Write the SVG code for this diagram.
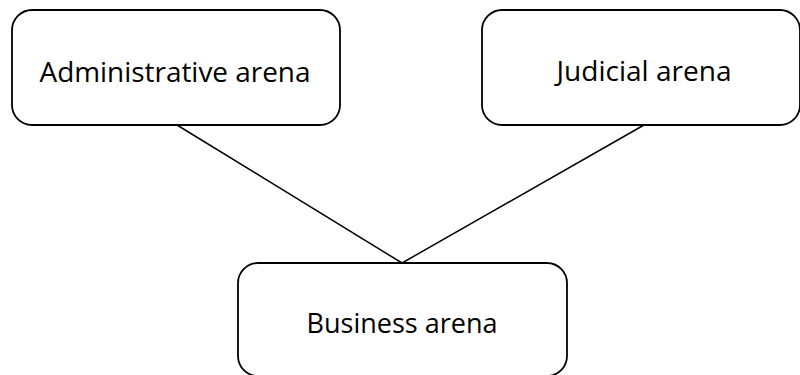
<svg xmlns="http://www.w3.org/2000/svg" width="800" height="375" viewBox="0 0 800 375">
<style>
.box{fill:#ffffff;stroke:#000000;stroke-width:1.8}
.lbl{font-family:"Open Sans","Liberation Sans",sans-serif;font-size:28px;fill:#000000;text-anchor:middle}
.conn{stroke:#000000;stroke-width:1.5;fill:none}
</style>
<rect width="800" height="375" fill="#ffffff"/>
<g id="connectors">
<line class="conn" x1="177" y1="125" x2="402" y2="263"/>
<line class="conn" x1="644" y1="125" x2="402" y2="263"/>
</g>
<g id="administrative">
<rect class="box" x="12" y="10" width="328" height="115" rx="20" ry="20"/>
<text class="lbl" x="175" y="82" textLength="271" lengthAdjust="spacingAndGlyphs">Administrative arena</text>
</g>
<g id="judicial">
<rect class="box" x="482" y="10" width="318" height="115" rx="20" ry="20"/>
<text class="lbl" x="644" y="81" textLength="175" lengthAdjust="spacingAndGlyphs">Judicial arena</text>
</g>
<g id="business">
<rect class="box" x="238" y="263" width="329" height="113" rx="20" ry="20"/>
<text class="lbl" x="402" y="333" textLength="191" lengthAdjust="spacingAndGlyphs">Business arena</text>
</g>
</svg>
